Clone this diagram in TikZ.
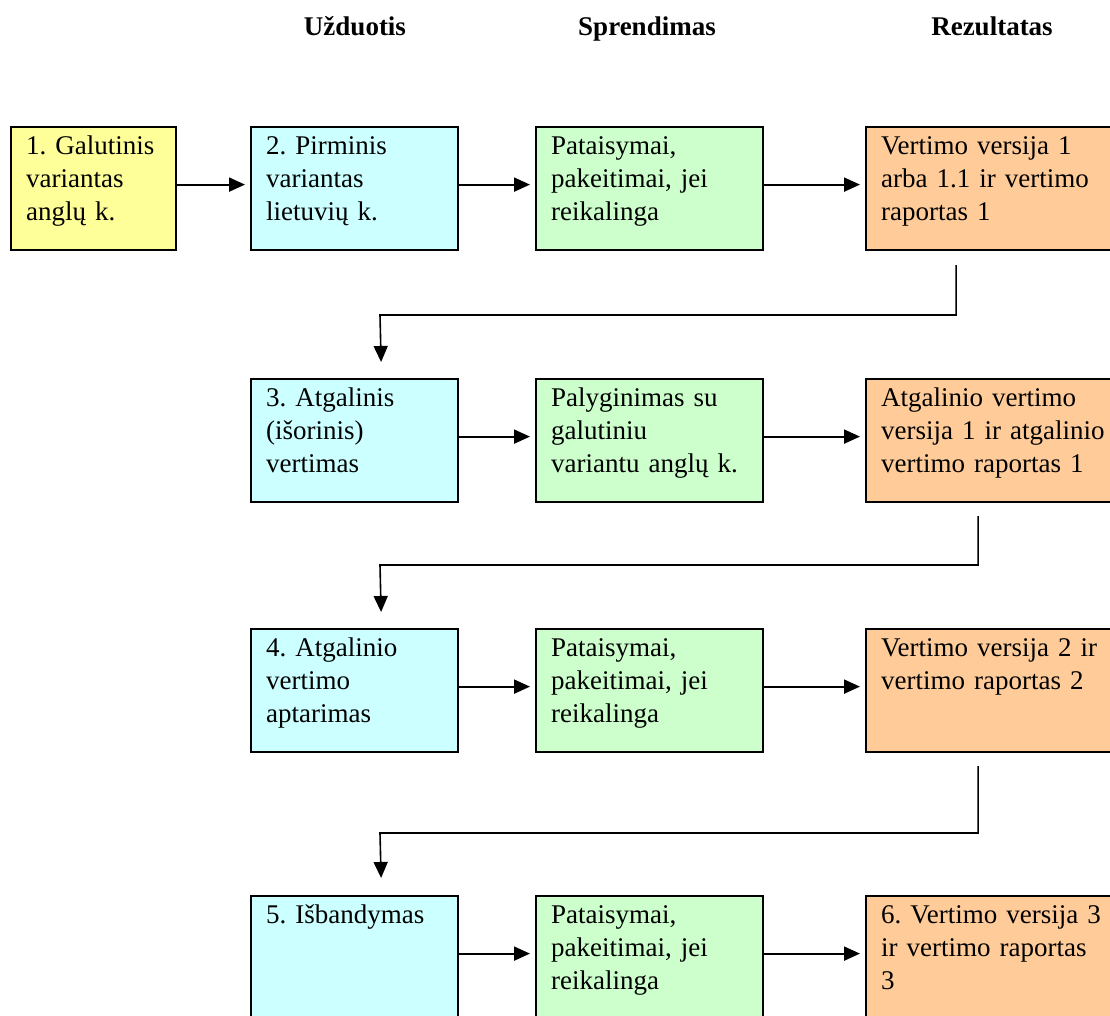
\documentclass[tikz,border=0pt]{standalone}
\usepackage{fontspec}
\setmainfont{Liberation Serif}
\usepackage{tikz}
\usetikzlibrary{arrows.meta}
\frenchspacing

\definecolor{boxyellow}{HTML}{FFFF99}
\definecolor{boxcyan}{HTML}{CCFFFF}
\definecolor{boxgreen}{HTML}{CCFFCC}
\definecolor{boxorange}{HTML}{FFCC99}

\tikzset{
  stagebox/.style={draw, line width=2.2bp, anchor=north west, align=left,
    inner xsep=15bp, inner ysep=0pt, text height=27bp, text depth=96bp},
  flowarrow/.style={-{Triangle[length=16bp,width=14bp]}, line width=2bp,
    shorten >=5bp},
  linkarrow/.style={-{Triangle[length=16bp,width=14bp]}, line width=1.6bp}
}

\begin{document}
\begin{tikzpicture}[x=1bp,y=-1bp,font=\fontsize{27bp}{33bp}\selectfont]
  \useasboundingbox (0,0) rectangle (1110,1016);
  % column headings
  \foreach \x/\colLabel in {355/U\v{z}duotis, 647/Sprendimas, 992/Rezultatas}
  {
    \node[anchor=base, font=\fontsize{27bp}{33bp}\selectfont\bfseries] at (\x,35) {\colLabel};
  }

  % row 1
  \node[stagebox, fill=boxyellow, text width=135bp] (b11) at (10,126)
    {1. Galutinis\\variantas\\angl\k{u} k.};
  \node[stagebox, fill=boxcyan, text width=177bp] (b12) at (250,126)
    {2. Pirminis\\variantas\\lietuvi\k{u} k.};
  \node[stagebox, fill=boxgreen, text width=197bp] (b13) at (535,126)
    {Pataisymai,\\pakeitimai, jei\\reikalinga};
  \node[stagebox, fill=boxorange, text width=230bp] (b14) at (865,126)
    {Vertimo versija 1\\arba 1.1 ir vertimo\\raportas 1};

  % row 2
  \node[stagebox, fill=boxcyan, text width=177bp] (b21) at (250,378)
    {3. Atgalinis\\(i\v{s}orinis)\\vertimas};
  \node[stagebox, fill=boxgreen, text width=197bp] (b22) at (535,378)
    {Palyginimas su\\galutiniu\\variantu angl\k{u} k.};
  \node[stagebox, fill=boxorange, text width=230bp] (b23) at (865,378)
    {Atgalinio vertimo\\versija 1 ir atgalinio\\vertimo raportas 1};

  % row 3
  \node[stagebox, fill=boxcyan, text width=177bp] (b31) at (250,628)
    {4. Atgalinio\\vertimo\\aptarimas};
  \node[stagebox, fill=boxgreen, text width=197bp] (b32) at (535,628)
    {Pataisymai,\\pakeitimai, jei\\reikalinga};
  \node[stagebox, fill=boxorange, text width=230bp] (b33) at (865,628)
    {Vertimo versija 2 ir\\vertimo raportas 2};

  % row 4
  \node[stagebox, fill=boxcyan, text width=177bp] (b41) at (250,895)
    {5. I\v{s}bandymas};
  \node[stagebox, fill=boxgreen, text width=197bp] (b42) at (535,895)
    {Pataisymai,\\pakeitimai, jei\\reikalinga};
  \node[stagebox, fill=boxorange, text width=230bp] (b43) at (865,895)
    {6. Vertimo versija 3\\ir vertimo raportas\\3};

  % arrows within rows
  \foreach \a/\b in {b11/b12, b12/b13, b13/b14, b21/b22, b22/b23,
    b31/b32, b32/b33, b41/b42, b42/b43}
  {
    \draw[flowarrow] ([yshift=4bp]\a.east) -- ([yshift=4bp]\b.west);
  }

  % links between rows
  \coordinate (k1) at (380,315);
  \coordinate (k2) at (380,565);
  \coordinate (k3) at (380,833);
  \draw[linkarrow] ([shift={(-40,14)}]b14.south) |- (k1) -- ([shift={(26.5,-16)}]b21.north);
  \draw[linkarrow] ([shift={(-18,13)}]b23.south) |- (k2) -- ([shift={(26.5,-16)}]b31.north);
  \draw[linkarrow] ([shift={(-18,13)}]b33.south) |- (k3) -- ([shift={(26.5,-17)}]b41.north);
\end{tikzpicture}
\end{document}
